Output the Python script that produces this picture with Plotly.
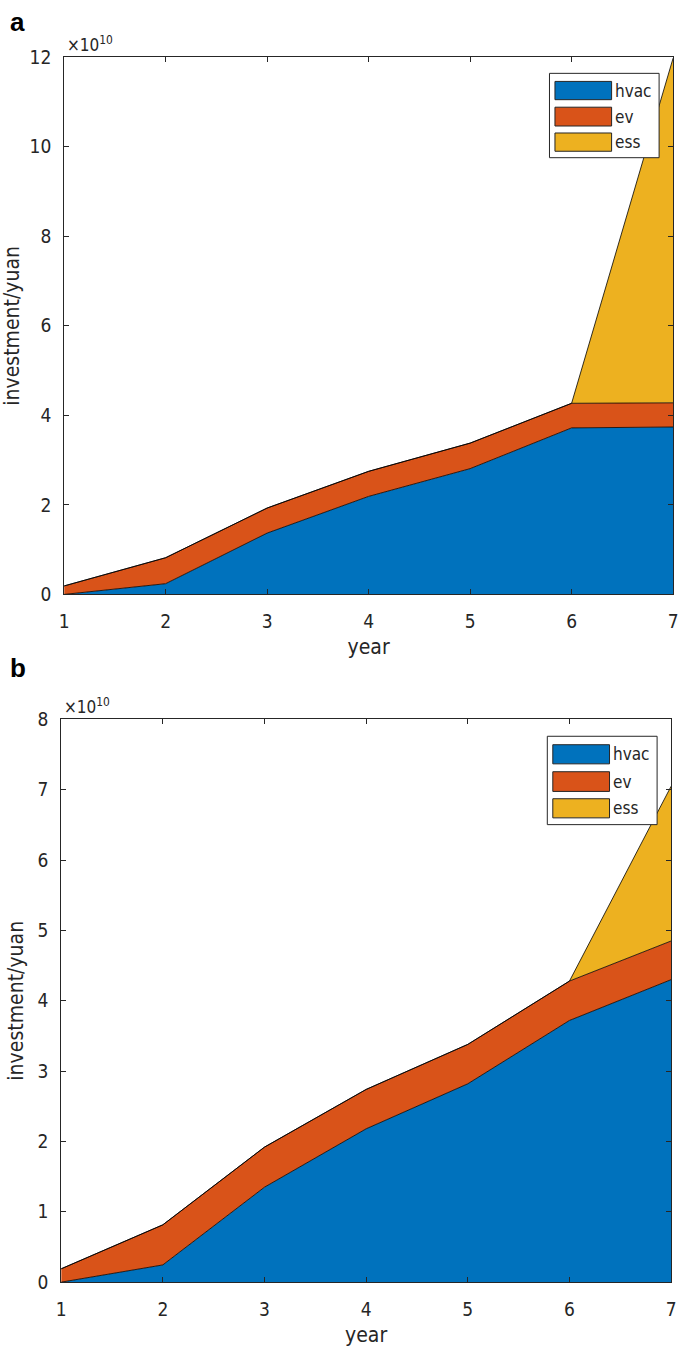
import plotly.graph_objects as go

years = [1, 2, 3, 4, 5, 6, 7]
series_names = ["hvac", "ev", "ess"]
colors = ["#0072BD", "#D95319", "#EDB120"]

# values in units of 1e10 yuan
hvac_a = [0.0, 0.24, 1.37, 2.19, 2.81, 3.72, 3.74]
ev_a = [0.19, 0.58, 0.56, 0.56, 0.57, 0.55, 0.54]
ess_a = [0.0, 0.0, 0.0, 0.0, 0.0, 0.0, 7.7]

hvac_b = [0.0, 0.245, 1.35, 2.18, 2.82, 3.72, 4.30]
ev_b = [0.19, 0.57, 0.57, 0.56, 0.56, 0.56, 0.55]
ess_b = [0.0, 0.0, 0.0, 0.0, 0.0, 0.0, 2.2]

yticks_a = [0, 2, 4, 6, 8, 10, 12]
yticks_b = [0, 1, 2, 3, 4, 5, 6, 7, 8]

FONT = "Liberation Sans Narrow, DejaVu Sans Condensed, Liberation Sans, Arial, sans-serif"
AX = "#262626"
W, H = 685, 1364

fig = go.Figure()

panels = [
    ("x", "y", "a", [hvac_a, ev_a, ess_a]),
    ("x2", "y2", "b", [hvac_b, ev_b, ess_b]),
]
for xa, ya, grp, data in panels:
    for name, col, vals in zip(series_names, colors, data):
        fig.add_trace(go.Scatter(
            x=years, y=vals, name=name, xaxis=xa, yaxis=ya,
            stackgroup=grp, mode="lines",
            line=dict(color="black", width=0.8),
            fillcolor=col, showlegend=False,
        ))

axis_common = dict(
    showline=True, linecolor=AX, linewidth=1, mirror="ticks",
    ticks="inside", ticklen=5, tickcolor=AX, tickwidth=1,
    showgrid=False, zeroline=False,
    tickfont=dict(family=FONT, size=19, color=AX),
)
title_font = dict(family=FONT, size=21, color=AX)

fig.update_layout(
    width=W, height=H,
    margin=dict(l=0, r=0, t=0, b=0),
    paper_bgcolor="white", plot_bgcolor="white",
    xaxis=dict(domain=[60/W, 678/W], range=[1, 7], tickvals=years,
               anchor="y", ticklabelstandoff=10, **axis_common,
               title=dict(text="year", font=title_font, standoff=8)),
    yaxis=dict(domain=[1-593/H, 1-47/H], range=[0, 12], tickvals=yticks_a,
               anchor="x", ticklabelstandoff=8, **axis_common,
               title=dict(text="investment/yuan", font=title_font, standoff=8)),
    xaxis2=dict(domain=[57/W, 676/W], range=[1, 7], tickvals=years,
                anchor="y2", ticklabelstandoff=10, **axis_common,
                title=dict(text="year", font=title_font, standoff=8)),
    yaxis2=dict(domain=[1-1292/H, 1-720/H], range=[0, 8], tickvals=yticks_b,
                anchor="x2", ticklabelstandoff=8, **axis_common,
                title=dict(text="investment/yuan", font=title_font, standoff=8)),
)

shapes = []
annotations = []
for xa, ya in [("x", "y"), ("x2", "y2")]:
    xr, yr = xa + " domain", ya + " domain"
    shapes.append(dict(type="rect", xref=xr, yref=yr, x0=0.797, x1=0.977, y0=0.813, y1=0.970,
                       line=dict(color="#262626", width=1), fillcolor="white", layer="above"))
    patch_y = [(0.921, 0.955), (0.872, 0.907), (0.825, 0.859)]
    for (y0, y1), col, name in zip(patch_y, colors, series_names):
        shapes.append(dict(type="rect", xref=xr, yref=yr, x0=0.806, x1=0.899, y0=y0, y1=y1,
                           line=dict(color="#262626", width=1), fillcolor=col, layer="above"))
        annotations.append(dict(xref=xr, yref=yr, x=0.902, y=(y0+y1)/2, text=name,
                                showarrow=False, xanchor="left", yanchor="middle",
                                font=dict(family=FONT, size=17, color="#262626")))
    annotations.append(dict(xref=xr, yref=yr, x=0.002, y=1.0, yshift=0, text="×10<sup>10</sup>",
                            showarrow=False, xanchor="left", yanchor="bottom",
                            font=dict(family=FONT, size=17, color=AX)))

annotations.append(dict(xref="paper", yref="paper", x=3/W, y=1-11/H, text="<b>a</b>",
                        showarrow=False, xanchor="left", yanchor="middle",
                        font=dict(family="Liberation Sans, Arial, sans-serif", size=26, color="black")))
annotations.append(dict(xref="paper", yref="paper", x=3/W, y=1-668/H, text="<b>b</b>",
                        showarrow=False, xanchor="left", yanchor="middle",
                        font=dict(family="Liberation Sans, Arial, sans-serif", size=26, color="black")))

fig.update_layout(shapes=shapes, annotations=annotations)
fig.write_html("out.html",
               config={"displayModeBar": False},
               post_script="document.body.style.margin='0';document.body.style.overflow='hidden';")
